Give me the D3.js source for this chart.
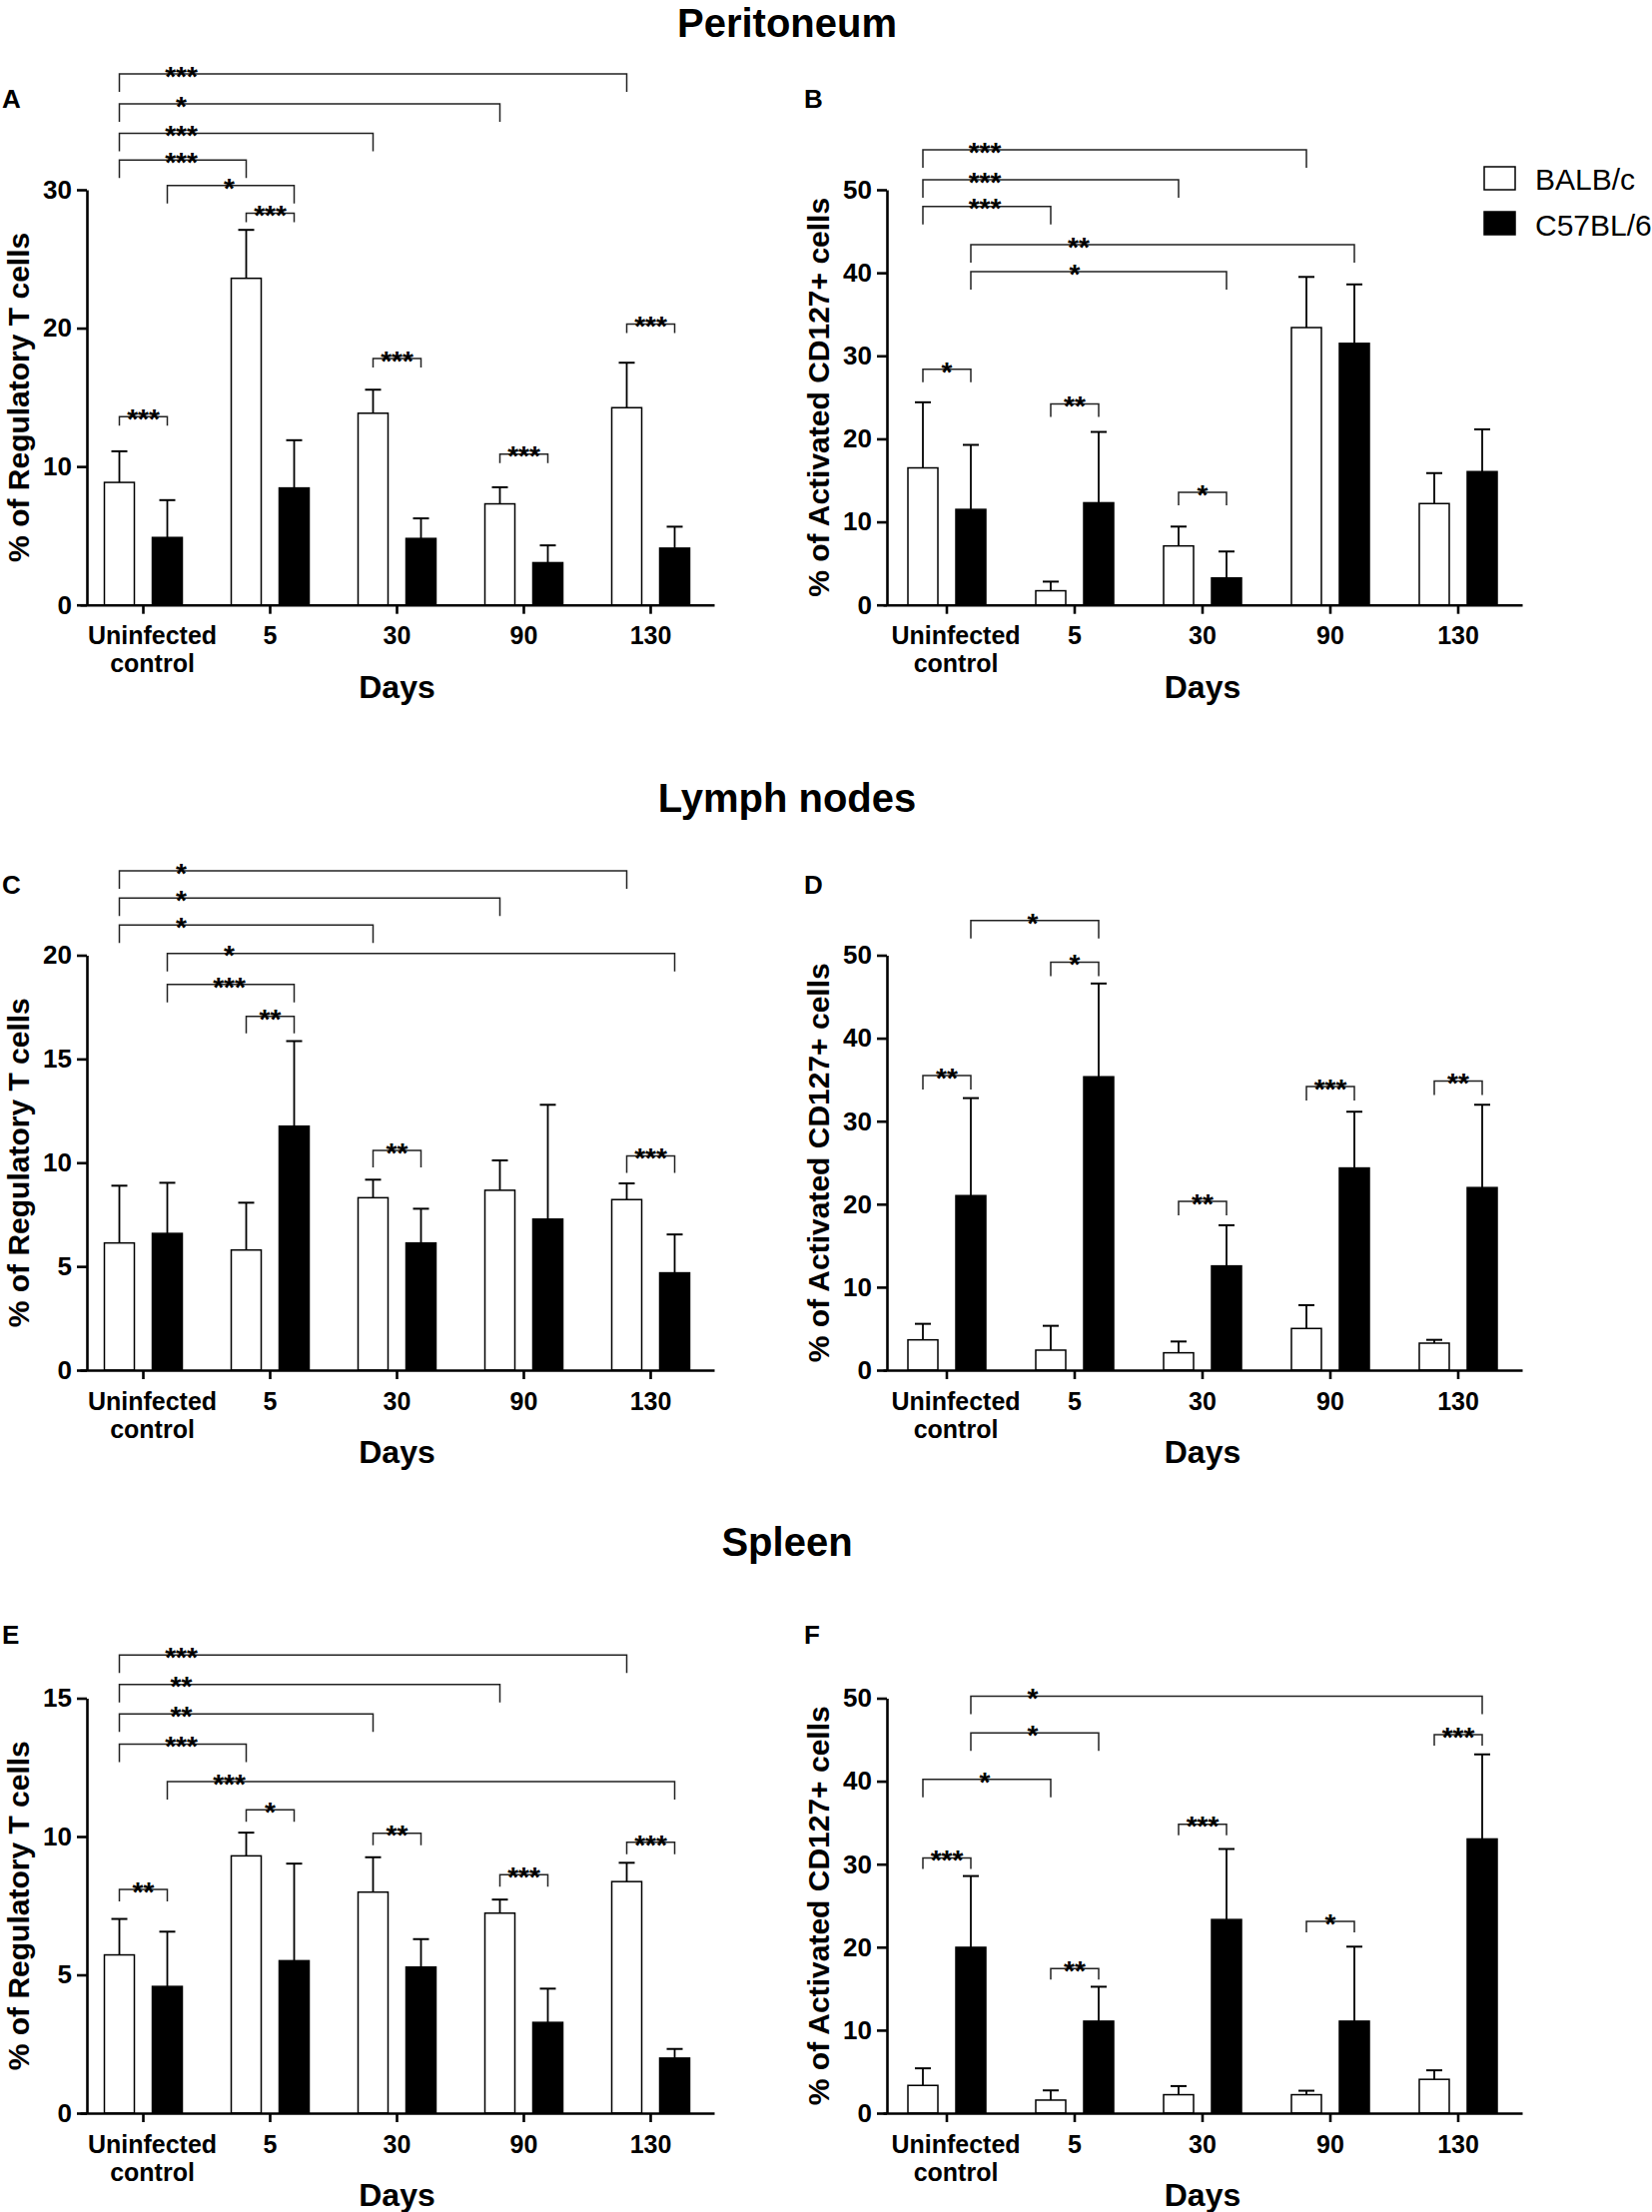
<!DOCTYPE html>
<html>
<head>
<meta charset="utf-8">
<script src="https://cdn.jsdelivr.net/npm/d3@7/dist/d3.min.js"></script>
<style>
  html, body { margin: 0; padding: 0; background: #fff; }
  svg { display: block; font-family: "Liberation Sans", Arial, Helvetica, sans-serif; }
</style>
</head>
<body>
<svg id="chart" width="1654" height="2215"></svg>
<script>
// ---------------- DATA ----------------
const categories = ["Uninfected control", "5", "30", "90", "130"];
const seriesNames = ["BALB/c", "C57BL/6"];
const xTitle = "Days";
const sectionTitles = ["Peritoneum", "Lymph nodes", "Spleen"];
const panelLetters = ["A", "B", "C", "D", "E", "F"];
const yTitles = ["% of Regulatory T cells", "% of Activated CD127+ cells"];

// Panel A – Peritoneum, regulatory T cells
const aBalb   = [8.85, 23.6, 13.85, 7.3, 14.25];
const aBalbSd = [2.25, 3.5, 1.7, 1.2, 3.25];
const aC57    = [4.87, 8.45, 4.8, 3.05, 4.1];
const aC57Sd  = [2.7, 3.45, 1.45, 1.25, 1.55];
const aTicks  = [0, 10, 20, 30];
// brackets: [fromCategory, fromSeries, toCategory, toSeries, y value, label]  (series 0 = BALB/c, 1 = C57BL/6)
const aBrackets = [
  [0,0,0,1,13.6,"***"], [1,0,1,1,28.3,"***"], [2,0,2,1,17.8,"***"], [3,0,3,1,10.9,"***"], [4,0,4,1,20.3,"***"],
  [0,1,1,1,30.3,"*"], [0,0,1,0,32.15,"***"], [0,0,2,0,34.07,"***"], [0,0,3,0,36.2,"*"], [0,0,4,0,38.37,"***"]
];

// Panel B – Peritoneum, activated CD127+ cells
const bBalb   = [16.5, 1.7, 7.1, 33.4, 12.2];
const bBalbSd = [7.9, 1.1, 2.33, 6.1, 3.67];
const bC57    = [11.5, 12.3, 3.24, 31.5, 16.05];
const bC57Sd  = [7.77, 8.53, 3.19, 7.1, 5.09];
const bTicks  = [0, 10, 20, 30, 40, 50];
const bBrackets = [
  [0,0,0,1,28.38,"*"], [1,0,1,1,24.19,"**"], [2,0,2,1,13.57,"*"],
  [0,1,2,1,40.14,"*"], [0,1,3,1,43.38,"**"],
  [0,0,1,0,48.0,"***"], [0,0,2,0,51.19,"***"], [0,0,3,0,54.81,"***"]
];

// Panel C – Lymph nodes, regulatory T cells
const cBalb   = [6.13, 5.79, 8.31, 8.67, 8.22];
const cBalbSd = [2.76, 2.28, 0.87, 1.44, 0.78];
const cC57    = [6.59, 11.76, 6.13, 7.28, 4.69];
const cC57Sd  = [2.44, 4.1, 1.65, 5.51, 1.85];
const cTicks  = [0, 5, 10, 15, 20];
const cBrackets = [
  [1,0,1,1,17.05,"**"], [2,0,2,1,10.59,"**"], [4,0,4,1,10.33,"***"],
  [0,1,1,1,18.59,"***"], [0,1,4,1,20.09,"*"],
  [0,0,2,0,21.46,"*"], [0,0,3,0,22.75,"*"], [0,0,4,0,24.07,"*"]
];

// Panel D – Lymph nodes, activated CD127+ cells
const dBalb   = [3.65, 2.41, 2.09, 5.02, 3.25];
const dBalbSd = [1.93, 2.93, 1.36, 2.81, 0.4];
const dC57    = [21.03, 35.35, 12.56, 24.36, 22.0];
const dC57Sd  = [11.75, 11.24, 4.9, 6.78, 9.98];
const dTicks  = [0, 10, 20, 30, 40, 50];
const dBrackets = [
  [0,0,0,1,35.51,"**"], [1,0,1,1,49.16,"*"], [2,0,2,1,20.35,"**"], [3,0,3,1,34.19,"***"], [4,0,4,1,34.83,"**"],
  [0,1,1,1,54.17,"*"]
];

// Panel E – Spleen, regulatory T cells
const eBalb   = [5.72, 9.30, 7.99, 7.23, 8.37];
const eBalbSd = [1.30, 0.84, 1.26, 0.49, 0.68];
const eC57    = [4.58, 5.51, 5.28, 3.28, 1.99];
const eC57Sd  = [1.98, 3.51, 1.01, 1.22, 0.33];
const eTicks  = [0, 5, 10, 15];
const eBrackets = [
  [0,0,0,1,8.09,"**"], [1,0,1,1,10.97,"*"], [2,0,2,1,10.12,"**"], [3,0,3,1,8.62,"***"], [4,0,4,1,9.79,"***"],
  [0,1,4,1,11.99,"***"], [0,0,1,0,13.34,"***"], [0,0,2,0,14.43,"**"], [0,0,3,0,15.5,"**"], [0,0,4,0,16.56,"***"]
];

// Panel F – Spleen, activated CD127+ cells
const fBalb   = [3.34, 1.57, 2.22, 2.22, 4.07];
const fBalbSd = [2.06, 1.17, 1.04, 0.48, 1.09];
const fC57    = [19.98, 11.08, 23.33, 11.08, 33.04];
const fC57Sd  = [8.59, 4.15, 8.5, 8.98, 10.19];
const fTicks  = [0, 10, 20, 30, 40, 50];
const fBrackets = [
  [0,0,0,1,30.74,"***"], [1,0,1,1,17.41,"**"], [2,0,2,1,34.81,"***"], [3,0,3,1,23.09,"*"], [4,0,4,1,45.6,"***"],
  [0,0,1,0,40.21,"*"], [0,1,1,1,45.81,"*"], [0,1,4,1,50.24,"*"]
];

// ---------------- LAYOUT ----------------
const rows = [
  { y0: 605.7, yTop: 190,    title: 37,   letter: 108 },
  { y0: 1372,  yTop: 956.5,  title: 813,  letter: 895 },
  { y0: 2116,  yTop: 1700.5, title: 1558, letter: 1646 }
];
const cols = [
  { x0: 87,  range: [80, 715],   letterX: 2 },
  { x0: 888, range: [884, 1524], letterX: 805 }
];

// labelShift: per-bracket (by index) horizontal label offset from the bracket start
const panels = [
  { row: 0, col: 0, balb: aBalb, balbSd: aBalbSd, c57: aC57, c57Sd: aC57Sd, ticks: aTicks, brackets: aBrackets, yt: 0, inTick: 9,  labelShift: {} },
  { row: 0, col: 1, balb: bBalb, balbSd: bBalbSd, c57: bC57, c57Sd: bC57Sd, ticks: bTicks, brackets: bBrackets, yt: 1, inTick: 13, labelShift: { 3: 104, 4: 108 } },
  { row: 1, col: 0, balb: cBalb, balbSd: cBalbSd, c57: cC57, c57Sd: cC57Sd, ticks: cTicks, brackets: cBrackets, yt: 0, inTick: 17, labelShift: {} },
  { row: 1, col: 1, balb: dBalb, balbSd: dBalbSd, c57: dC57, c57Sd: dC57Sd, ticks: dTicks, brackets: dBrackets, yt: 1, inTick: 14, labelShift: {} },
  { row: 2, col: 0, balb: eBalb, balbSd: eBalbSd, c57: eC57, c57Sd: eC57Sd, ticks: eTicks, brackets: eBrackets, yt: 0, inTick: 12, labelShift: {} },
  { row: 2, col: 1, balb: fBalb, balbSd: fBalbSd, c57: fC57, c57Sd: fC57Sd, ticks: fTicks, brackets: fBrackets, yt: 1, inTick: 11, labelShift: {} }
];

const svg = d3.select("#chart");
svg.append("rect").attr("width", 1654).attr("height", 2215).attr("fill", "#fff");

const BAR_W = 30, BAR_OFF = 24, CAP_W = 16, CROSS_TICK = 18;
const starSize = 28;

// section titles
rows.forEach((r, i) => {
  svg.append("text").attr("x", 788).attr("y", r.title)
    .attr("text-anchor", "middle").attr("font-size", 40).attr("font-weight", "bold")
    .text(sectionTitles[i]);
});

panels.forEach((p, pi) => {
  const r = rows[p.row], c = cols[p.col];
  const g = svg.append("g");
  const x = d3.scaleBand().domain(categories).range(c.range).paddingInner(0).paddingOuter(0);
  const yMax = p.ticks[p.ticks.length - 1];
  const y = d3.scaleLinear().domain([0, yMax]).range([r.y0, r.yTop]);
  const cx = (i, s) => x(categories[i]) + x.bandwidth() / 2 + (s === 0 ? -BAR_OFF : BAR_OFF);

  // panel letter
  svg.append("text").attr("x", c.letterX).attr("y", r.letter)
    .attr("font-size", 26).attr("font-weight", "bold").text(panelLetters[pi]);

  // bars + error bars
  [[p.balb, p.balbSd], [p.c57, p.c57Sd]].forEach(([vals, sds], s) => {
    const idx = vals.map((v, i) => i);
    g.selectAll(null).data(idx).join("line")
      .attr("x1", i => cx(i, s)).attr("x2", i => cx(i, s))
      .attr("y1", i => y(vals[i])).attr("y2", i => y(vals[i] + sds[i]))
      .attr("stroke", "#000").attr("stroke-width", 1.8);
    g.selectAll(null).data(idx).join("line")
      .attr("x1", i => cx(i, s) - CAP_W / 2).attr("x2", i => cx(i, s) + CAP_W / 2)
      .attr("y1", i => y(vals[i] + sds[i])).attr("y2", i => y(vals[i] + sds[i]))
      .attr("stroke", "#000").attr("stroke-width", 2);
    g.selectAll(null).data(idx).join("rect")
      .attr("x", i => cx(i, s) - BAR_W / 2).attr("width", BAR_W)
      .attr("y", i => y(vals[i])).attr("height", i => y(0) - y(vals[i]))
      .attr("fill", s === 0 ? "#fff" : "#000")
      .attr("stroke", "#000").attr("stroke-width", 1.5);
  });

  // y axis
  const ya = g.append("g").attr("transform", `translate(${c.x0},0)`)
    .call(d3.axisLeft(y).tickValues(p.ticks).tickSize(10).tickSizeOuter(0).tickPadding(5).tickFormat(d3.format("d")));
  ya.select(".domain").attr("stroke-width", 2.6);
  ya.selectAll(".tick line").attr("stroke-width", 2.6);
  ya.selectAll(".tick text").attr("font-size", 26).attr("font-weight", "bold")
    .attr("font-family", "Liberation Sans, Arial, sans-serif").attr("fill", "#000");

  // x axis
  const xa = g.append("g").attr("transform", `translate(0,${r.y0})`)
    .call(d3.axisBottom(x).tickSize(9).tickSizeOuter(0).tickFormat(""));
  xa.select(".domain").attr("stroke-width", 2.6);
  xa.selectAll(".tick line").attr("stroke-width", 2.6);

  // x tick labels
  categories.forEach((cat) => {
    const lines = cat.split(" ");
    const lx = x(cat) + x.bandwidth() / 2 + (lines.length > 1 ? 9 : 0);
    const t = g.append("text")
      .attr("x", lx).attr("y", r.y0 + 39.5)
      .attr("text-anchor", "middle").attr("font-size", 25).attr("font-weight", "bold");
    lines.forEach((ln, k) => {
      t.append("tspan").attr("x", lx).attr("dy", k === 0 ? 0 : 28).text(ln);
    });
  });

  // x title
  g.append("text").attr("x", (c.range[0] + c.range[1]) / 2).attr("y", r.y0 + 93)
    .attr("text-anchor", "middle").attr("font-size", 32).attr("font-weight", "bold").text(xTitle);

  // y title
  const ymid = (r.y0 + r.yTop) / 2;
  g.append("text").attr("transform", `translate(${c.x0 - 58},${ymid}) rotate(-90)`)
    .attr("text-anchor", "middle").attr("font-size", 30).attr("font-weight", "bold")
    .text(yTitles[p.yt]);

  // significance brackets
  p.brackets.forEach((b, bi) => {
    const x1 = cx(b[0], b[1]), x2 = cx(b[2], b[3]);
    const ly = y(b[4]);
    const t = (b[0] === b[2]) ? p.inTick : CROSS_TICK;
    g.append("path")
      .attr("d", `M${x1},${ly + t}V${ly}H${x2}V${ly + t}`)
      .attr("fill", "none").attr("stroke", "#222").attr("stroke-width", 1.5);
    const w = x2 - x1;
    const shift = (p.labelShift[bi] !== undefined) ? p.labelShift[bi] : Math.min(62, w / 2);
    g.append("text").attr("x", x1 + shift).attr("y", ly + 0.42 * starSize)
      .attr("text-anchor", "middle").attr("font-size", starSize).attr("font-weight", "bold")
      .text(b[5]);
  });

  // legend (panel B only)
  if (pi === 1) {
    const lg = svg.append("g");
    seriesNames.forEach((nm, k) => {
      lg.append("rect").attr("x", 1486).attr("y", 167 + k * 45).attr("width", 31).attr("height", 23)
        .attr("fill", k === 0 ? "#fff" : "#000").attr("stroke", "#000").attr("stroke-width", 1.5);
      lg.append("text").attr("x", 1537).attr("y", 190 + k * 46).attr("font-size", 30).text(nm);
    });
  }
});
</script>
</body>
</html>
